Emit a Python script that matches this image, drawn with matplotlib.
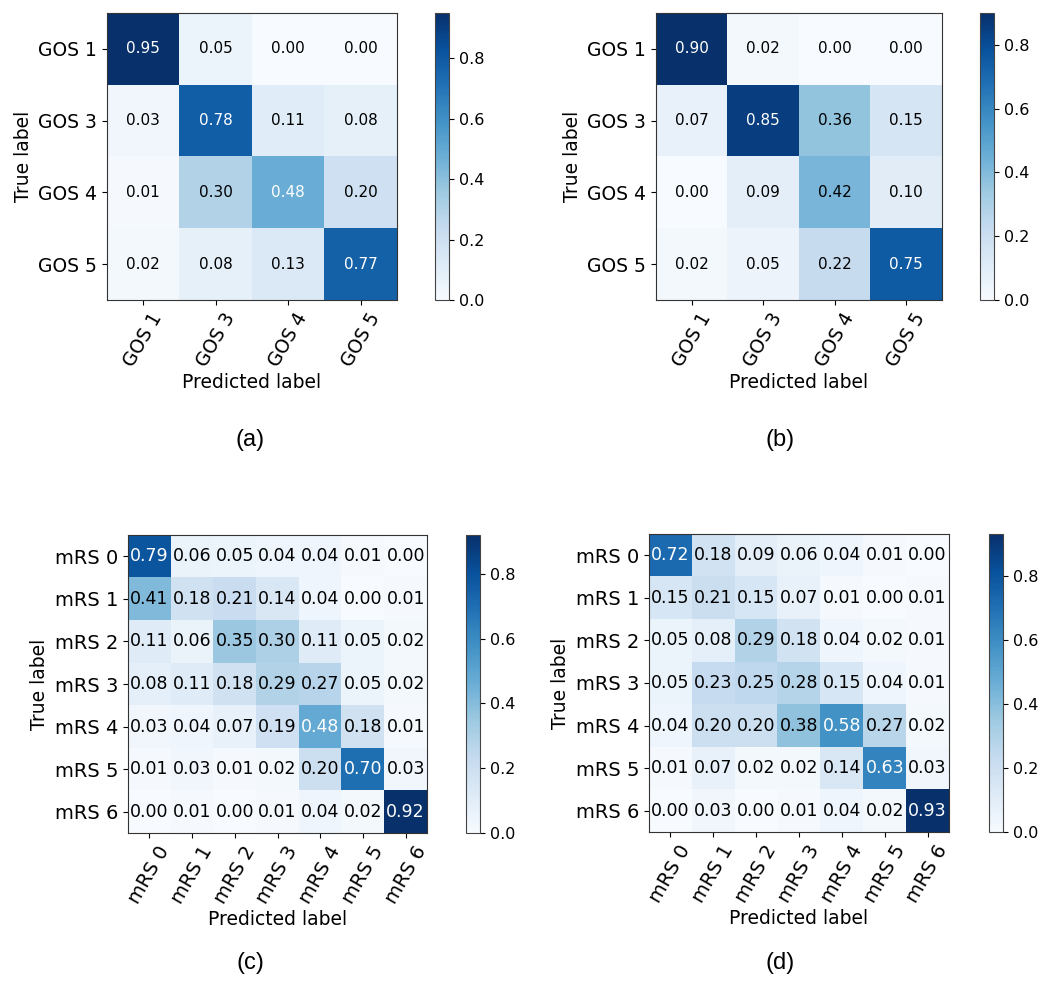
import numpy as np
import matplotlib
matplotlib.use("Agg")
import matplotlib.pyplot as plt
from matplotlib.ticker import MultipleLocator

# class names
gos_labels = ["GOS 1", "GOS 3", "GOS 4", "GOS 5"]
mrs_labels = ["mRS 0", "mRS 1", "mRS 2", "mRS 3", "mRS 4", "mRS 5", "mRS 6"]

# normalized confusion matrices
cm_a = [[0.95, 0.05, 0.00, 0.00],
        [0.03, 0.78, 0.11, 0.08],
        [0.01, 0.30, 0.48, 0.20],
        [0.02, 0.08, 0.13, 0.77]]

cm_b = [[0.90, 0.02, 0.00, 0.00],
        [0.07, 0.85, 0.36, 0.15],
        [0.00, 0.09, 0.42, 0.10],
        [0.02, 0.05, 0.22, 0.75]]

cm_c = [[0.79, 0.06, 0.05, 0.04, 0.04, 0.01, 0.00],
        [0.41, 0.18, 0.21, 0.14, 0.04, 0.00, 0.01],
        [0.11, 0.06, 0.35, 0.30, 0.11, 0.05, 0.02],
        [0.08, 0.11, 0.18, 0.29, 0.27, 0.05, 0.02],
        [0.03, 0.04, 0.07, 0.19, 0.48, 0.18, 0.01],
        [0.01, 0.03, 0.01, 0.02, 0.20, 0.70, 0.03],
        [0.00, 0.01, 0.00, 0.01, 0.04, 0.02, 0.92]]

cm_d = [[0.72, 0.18, 0.09, 0.06, 0.04, 0.01, 0.00],
        [0.15, 0.21, 0.15, 0.07, 0.01, 0.00, 0.01],
        [0.05, 0.08, 0.29, 0.18, 0.04, 0.02, 0.01],
        [0.05, 0.23, 0.25, 0.28, 0.15, 0.04, 0.01],
        [0.04, 0.20, 0.20, 0.38, 0.58, 0.27, 0.02],
        [0.01, 0.07, 0.02, 0.02, 0.14, 0.63, 0.03],
        [0.00, 0.03, 0.00, 0.01, 0.04, 0.02, 0.93]]

captions = ["(a)", "(b)", "(c)", "(d)"]

W, H = 1050, 986


def rect(x0, y0, x1, y1):
    # pixel box (top-left origin) -> figure fraction
    return [x0 / W, 1 - y1 / H, (x1 - x0) / W, (y1 - y0) / H]


def plot_cm(fig, cm, labels, ax_box, cb_box, fs_annot, fs_tick):
    cm = np.array(cm)
    ax = fig.add_axes(rect(*ax_box))
    cax = fig.add_axes(rect(*cb_box))
    im = ax.imshow(cm, interpolation="nearest", cmap="Blues", aspect="auto")
    cb = fig.colorbar(im, cax=cax)
    cb.ax.yaxis.set_major_locator(MultipleLocator(0.2))
    cb.ax.tick_params(labelsize=11.5)
    cb.outline.set_edgecolor("#444444")
    ticks = np.arange(len(labels))
    ax.set_xticks(ticks)
    ax.set_xticklabels(labels, rotation=60, fontsize=fs_tick)
    ax.set_yticks(ticks)
    ax.set_yticklabels(labels, fontsize=fs_tick)
    for sp in ax.spines.values():
        sp.set_edgecolor("#333333")
    thresh = cm.max() / 2.0
    for i in range(cm.shape[0]):
        for j in range(cm.shape[1]):
            ax.text(j, i, format(cm[i, j], ".2f"),
                    ha="center", va="center", fontsize=fs_annot,
                    color="white" if cm[i, j] > thresh else "black")
    ax.set_ylabel("True label", fontsize=13.5)
    ax.set_xlabel("Predicted label", fontsize=13.5, labelpad=2)
    return ax


def main():
    fig = plt.figure(figsize=(W / 100, H / 100), dpi=100)

    plot_cm(fig, cm_a, gos_labels, (107, 13, 397, 300), (435, 13, 449, 300), 11, 13.5)
    plot_cm(fig, cm_b, gos_labels, (656, 13, 942, 300), (980, 13, 994, 300), 11, 13.5)
    plot_cm(fig, cm_c, mrs_labels, (128, 535, 427, 833), (466, 535, 480, 833), 12.5, 14)
    plot_cm(fig, cm_d, mrs_labels, (649, 534, 949, 832), (989, 534, 1003, 832), 12.5, 14)

    pos = [(250, 440), (780, 440), (250, 963), (780, 963)]
    for cap, (px, py) in zip(captions, pos):
        fig.text(px / W, 1 - py / H, cap, ha="center", va="center",
                 fontsize=17, family="Liberation Sans")

    fig.savefig("out.png", dpi=100)


if __name__ == "__main__":
    main()
